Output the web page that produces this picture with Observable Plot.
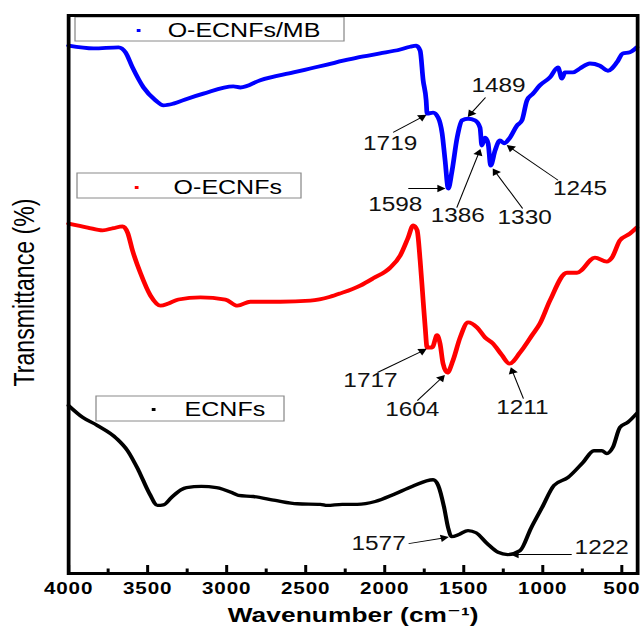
<!DOCTYPE html>
<html>
<head>
<meta charset="utf-8">
<script src="https://cdn.jsdelivr.net/npm/d3@7"></script>
<script src="https://cdn.jsdelivr.net/npm/@observablehq/plot@0.6"></script>
<style>
  html, body { margin: 0; padding: 0; background: #fff; }
  #chart svg { display: block; }
</style>
</head>
<body>
<div id="chart"></div>
<script>
// FTIR spectra of the three fibre samples, offset vertically (arbitrary units).
const seriesNames = ["O-ECNFs/MB", "O-ECNFs", "ECNFs"];
const seriesColors = ["#0000ff", "#ff0000", "#000000"];

const mbWavenumber = [4000,3842,3684,3640,3596,3526,3450,3400,3337,3248,3147,2958,2913,2787,2578,2471,2364,2263,2168,2029,1902,1839,1801,1776,1757,1738,1732,1694,1662,1637,1618,1598,1574,1542,1511,1473,1429,1397,1386,1365,1346,1330,1302,1271,1245,1208,1163,1132,1100,1062,1018,955,904,879,860,809,765,702,639,588,531,494,449,405];
const mbTransmittance = [94.6,94.1,94.3,93.4,90.7,87.1,84.8,83.9,84.2,85.1,86.0,87.3,87.1,88.4,89.8,90.5,91.2,91.9,92.5,93.2,93.9,94.4,94.6,93.7,88.4,84.8,82.4,82.6,81.7,78.9,74.0,69.0,72.2,78.1,81.2,81.5,81.2,79.9,76.7,78.1,77.1,73.1,75.8,77.6,77.1,78.1,80.3,81.2,84.8,86.0,87.5,88.9,90.7,88.7,89.8,89.8,90.5,91.4,91.0,90.1,91.6,93.2,93.4,94.3];

const oxWavenumber = [4000,3880,3785,3716,3659,3627,3596,3545,3482,3419,3368,3305,3166,3008,2932,2850,2661,2471,2345,2281,2155,2073,1966,1902,1852,1820,1795,1776,1757,1744,1732,1700,1669,1650,1631,1604,1568,1523,1473,1416,1365,1315,1258,1211,1144,1068,1018,955,847,784,670,595,563,512,449,405];
const oxTransmittance = [62.7,62.0,61.5,61.9,62.2,61.1,57.9,53.8,49.8,48.0,48.4,49.1,49.5,49.1,48.0,48.7,48.7,48.9,49.6,50.2,51.6,52.9,54.8,57.0,60.2,62.4,61.5,56.1,48.9,44.1,40.5,40.5,42.7,41.2,37.6,36.0,38.2,42.3,45.0,44.1,42.3,41.2,39.1,37.6,39.6,42.7,44.8,48.9,53.9,53.9,56.6,55.9,56.6,59.7,60.9,62.0];

const cnWavenumber = [4000,3912,3817,3697,3627,3558,3488,3438,3400,3350,3290,3254,3160,3065,2951,2926,2831,2692,2553,2408,2364,2269,2174,2060,1940,1827,1694,1662,1624,1599,1577,1530,1473,1422,1353,1283,1222,1144,1075,1005,929,841,746,677,626,595,557,512,462,405];
const cnTransmittance = [30.1,28.0,26.5,24.2,22.0,18.5,14.3,12.2,12.3,13.6,15.0,15.4,15.6,15.4,14.3,14.0,13.8,13.1,12.5,12.4,12.2,12.4,12.4,12.9,14.2,15.6,16.8,15.8,11.8,8.2,6.6,7.0,7.7,7.3,5.4,3.8,3.4,4.1,8.1,11.8,15.8,17.2,19.9,22.0,22.0,21.5,22.6,26.2,27.1,28.7];

// Labelled bands: which spectrum, and the band position (cm-1)
const peakSeries = [0, 0, 0, 0, 0, 0, 1, 1, 1, 2, 2];
const peakValues = [1719, 1489, 1598, 1386, 1330, 1245, 1717, 1604, 1211, 1577, 1222];

const majorTicks = [4000, 3500, 3000, 2500, 2000, 1500, 1000, 500];
const minorTicks = [3750, 3250, 2750, 2250, 1750, 1250, 750];

const xTitle = "Wavenumber (cm\u207B\u00B9)";
const yTitle = "Transmittance (%)";

// ---- layout -------------------------------------------------------------
const W = 643, H = 634;
const SX = 1.25;                       // horizontal stretch of the drawing
const frameLeft = 68, frameRight = 637, frameTop = 15, frameBottom = 573;
const FONT = "'Liberation Sans', Arial, 'DejaVu Sans', sans-serif";

// callouts: [tail dx, tail dy, label dx, label dy] in px from the band on its curve
const calloutLayout = [
  [-36, 19, -39, 30], [20, -22, 33, -34], [-40, 0, -53, 16],
  [-25, 62, -24, 70], [32, 43, 34, 52], [54, 37, 76, 45],
  [-52, 25, -59, 33], [-30, 28, -35, 37], [14, 35, 13, 44],
  [-43, 7, -73, 7], [64, 0, 94, -7]
];
// legend boxes [x1, y1, x2, y2], marker position and label start, in px
const legendBoxes = [[75, 17, 344, 41], [77, 173, 301, 198], [96, 396, 284, 421]];
const legendMarkers = [[138, 30], [136, 187], [153, 409]];
const legendTextX = [167, 173, 184];

const pw = W / SX;
const xs = d3.scaleLinear([4000, 400], [frameLeft / SX, frameRight / SX]);
const ys = d3.scaleLinear([0, 100], [frameBottom, frameTop]);
const toPx = (wn, v) => [xs(wn) * SX, ys(v)];
const fromPx = (px, py) => [xs.invert(px / SX), ys.invert(py)];

const wnArrays = [mbWavenumber, oxWavenumber, cnWavenumber];
const tArrays = [mbTransmittance, oxTransmittance, cnTransmittance];

const spectra = seriesNames.flatMap((name, s) =>
  wnArrays[s].map((wn, i) => ({series: name, wn, t: tArrays[s][i]})));

// value of a spectrum at a given wavenumber (along its drawn polyline)
function valueAt(s, wn) {
  const X = wnArrays[s], T = tArrays[s];
  for (let i = 0; i < X.length - 1; i++) {
    if (wn <= X[i] && wn >= X[i + 1]) {
      const f = (X[i] - wn) / (X[i] - X[i + 1]);
      return T[i] + f * (T[i + 1] - T[i]);
    }
  }
  return T[T.length - 1];
}

const callouts = peakValues.map((peak, i) => {
  const s = peakSeries[i];
  const [px, py] = toPx(peak, valueAt(s, peak));
  const [tdx, tdy, ldx, ldy] = calloutLayout[i];
  const len = Math.hypot(tdx, tdy);
  const ux = tdx / len, uy = tdy / len;
  const gap = 4;
  const tip = [px + ux * gap, py + uy * gap];
  const head = [tip[0] + ux * 4.2, tip[1] + uy * 4.2];
  const [x1, y1] = fromPx(px + tdx, py + tdy);
  const [x2, y2] = fromPx(head[0], head[1]);
  const [lx, ly] = fromPx(px + ldx, py + ldy);
  const angle = Math.atan2(-ux / SX, uy) * 180 / Math.PI;
  return {label: String(peak), x1, y1, x2, y2, hx: x2, hy: y2, lx, ly, angle};
});

const legend = seriesNames.map((name, s) => {
  const [bx1, by1, bx2, by2] = legendBoxes[s];
  const [x1, y1] = fromPx(bx1, by2);
  const [x2, y2] = fromPx(bx2, by1);
  const [mx, my] = fromPx(...legendMarkers[s]);
  const [tx] = fromPx(legendTextX[s], 0);
  return {name, color: seriesColors[s], x1, x2, y1, y2, mx, my, tx};
});

const plotH = frameBottom - frameTop;

const plot = Plot.plot({
  width: pw,
  height: H,
  marginLeft: frameLeft / SX,
  marginRight: (W - frameRight) / SX,
  marginTop: frameTop,
  marginBottom: H - frameBottom,
  x: {domain: [4000, 400]},
  y: {domain: [0, 100], axis: null},
  color: {domain: seriesNames, range: seriesColors},
  style: {fontFamily: FONT, background: "#fff", color: "#000", overflow: "visible"},
  marks: [
    // legend boxes
    Plot.rect(legend, {x1: "x1", x2: "x2", y1: "y1", y2: "y2", fill: "#fff", stroke: "#8a8a8a", strokeWidth: 1}),
    Plot.dot(legend, {x: "mx", y: "my", fill: "color", symbol: "square", r: 1.7}),
    Plot.text(legend, {x: "tx", y: "my", text: "name", textAnchor: "start", fontSize: 20, fill: "#000"}),
    // spectra
    Plot.line(spectra, {x: "wn", y: "t", z: "series", stroke: d => d.series, strokeWidth: d => d.series === "ECNFs" ? 3.3 : 3.8,
      curve: "monotone-x", strokeLinejoin: "round"}),
    // band callouts
    Plot.link(callouts, {x1: "x1", y1: "y1", x2: "x2", y2: "y2", stroke: "#000", strokeWidth: 0.9}),
    Plot.dot(callouts, {x: "hx", y: "hy", symbol: "triangle", r: 2.8, fill: "#000", rotate: "angle"}),
    Plot.text(callouts, {x: "lx", y: "ly", text: "label", fontSize: 19.5, fill: "#111"}),
    // ticks pointing into the frame
    Plot.ruleX(majorTicks, {x: d => d, insetTop: plotH - 8, stroke: "#000", strokeWidth: 2.4}),
    Plot.ruleX(minorTicks, {x: d => d, insetTop: plotH - 4.5, stroke: "#000", strokeWidth: 2.4}),
    Plot.axisX({ticks: majorTicks, tickSize: 0, tickPadding: 9, tickFormat: d => String(d),
      fontSize: 16.5, fontWeight: "bold", label: null}),
    Plot.frame({stroke: "#000", strokeWidth: 3}),
    // axis titles
    Plot.text([xTitle], {frameAnchor: "bottom", dy: 48, fontSize: 21, fontWeight: "bold", text: d => d}),
    Plot.text([yTitle], {frameAnchor: "left", textAnchor: "middle", dx: 24 / SX - frameLeft / SX, dy: -2,
      rotate: -90, fontSize: 23, text: d => d})
  ]
});

// fit the axis titles to their lengths on the page
const svg = d3.select(plot);
svg.selectAll("text").each(function () {
  const t = this.textContent;
  if (t === xTitle) {
    this.setAttribute("textLength", 251 / SX);
    this.setAttribute("lengthAdjust", "spacing");
  } else if (t === yTitle) {
    this.setAttribute("textLength", 188);
    this.setAttribute("lengthAdjust", "spacingAndGlyphs");
  } else if (majorTicks.map(String).includes(t)) {
    this.setAttribute("letter-spacing", "0.7");
  }
});

// stretch the drawing horizontally to fill the page width
plot.setAttribute("width", W);
plot.setAttribute("height", H);
plot.setAttribute("viewBox", `0 0 ${pw} ${H}`);
plot.setAttribute("preserveAspectRatio", "none");
plot.style.width = W + "px";
plot.style.height = H + "px";
plot.style.maxWidth = "none";

document.getElementById("chart").appendChild(plot);
</script>
</body>
</html>
